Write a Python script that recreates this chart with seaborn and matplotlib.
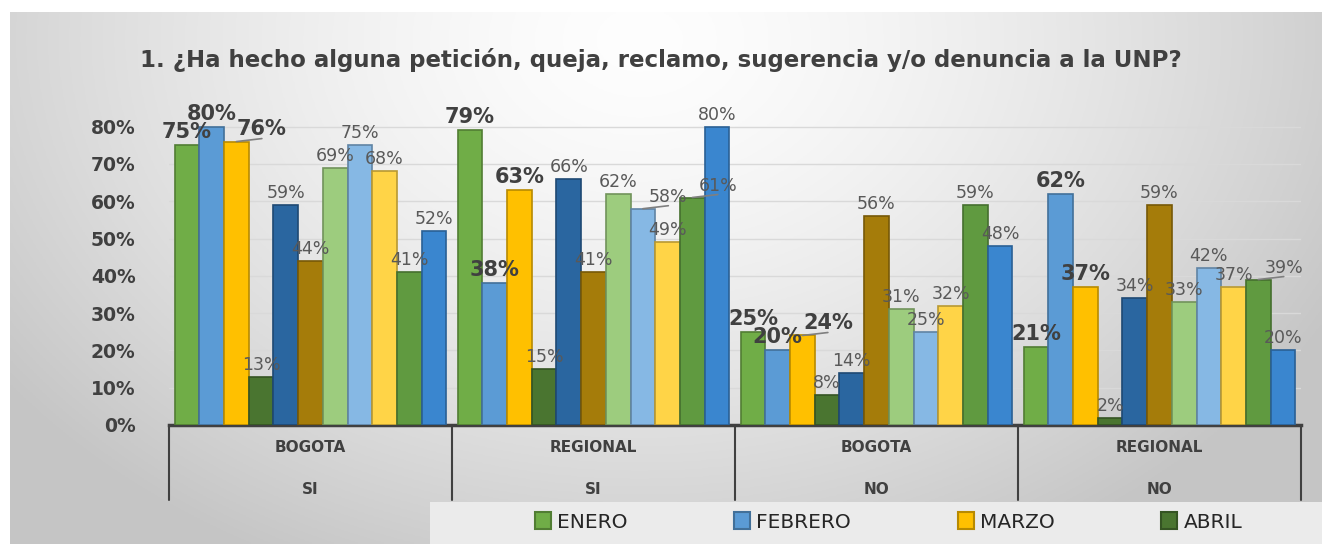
import numpy as np
import pandas as pd
import matplotlib.pyplot as plt
import matplotlib.colors as mcolors
import seaborn as sns
from matplotlib.patches import Patch, Rectangle
from matplotlib.ticker import PercentFormatter

# datos
meses = ['ENERO', 'FEBRERO', 'MARZO', 'ABRIL', 'MAYO', 'JUNIO',
         'JULIO', 'AGOSTO', 'SEPTIEMBRE', 'OCTUBRE', 'NOVIEMBRE']
sedes = ['BOGOTA', 'REGIONAL', 'BOGOTA', 'REGIONAL']
respuestas = ['SI', 'SI', 'NO', 'NO']

bogota_si = [0.75, 0.80, 0.76, 0.13, 0.59, 0.44, 0.69, 0.75, 0.68, 0.41, 0.52]
regional_si = [0.79, 0.38, 0.63, 0.15, 0.66, 0.41, 0.62, 0.58, 0.49, 0.61, 0.80]
bogota_no = [0.25, 0.20, 0.24, 0.08, 0.14, 0.56, 0.31, 0.25, 0.32, 0.59, 0.48]
regional_no = [0.21, 0.62, 0.37, 0.02, 0.34, 0.59, 0.33, 0.42, 0.37, 0.39, 0.20]

colores = ['#70AD47', '#5B9BD5', '#FFC000', '#4A7530', '#2A66A0', '#A57C0A',
           '#9DCC7E', '#86B8E4', '#FFD447', '#609A40', '#3A86CF']
meses_leyenda = meses[:4]

titulo = '1. ¿Ha hecho alguna petición, queja, reclamo, sugerencia y/o denuncia a la UNP?'

grupos = [f'{s} {r}' for s, r in zip(sedes, respuestas)]
valores = [bogota_si, regional_si, bogota_no, regional_no]
df = pd.DataFrame([
    {'grupo': g, 'mes': m, 'valor': v}
    for g, vals in zip(grupos, valores)
    for m, v in zip(meses, vals)
])

sns.set_theme(style='white')
plt.rcParams['font.family'] = ['DejaVu Sans']


def oscuro(c, f=0.72):
    r, g, b = mcolors.to_rgb(c)
    return (r * f, g * f, b * f)


W, H = 1322, 544
fig = plt.figure(figsize=(W / 100, H / 100), dpi=100, facecolor='white')

# fondo con degradado gris
bg = fig.add_axes([10 / W, 0, 1 - 10 / W, 1 - 12 / H], zorder=-5)
yy, xx = np.mgrid[0:1:200j, 0:1:400j]
d = np.sqrt(((xx - 0.48) / 0.6) ** 2 + ((yy - 0.05) / 1.1) ** 2)
d = np.clip(d, 0, 1) ** 1.5
tono = 0.995 - 0.22 * d
bg.imshow(np.dstack([tono, tono, tono]), extent=[0, 1, 0, 1], aspect='auto', origin='upper')
bg.axis('off')

# franja de la leyenda
fig.add_artist(Rectangle((430 / W, 0), 1 - 430 / W, 42 / H, transform=fig.transFigure,
                         facecolor='#EBEBEB', edgecolor='none', zorder=-1))

ax_top = 108
ax_h = 425 - ax_top
ax = fig.add_axes([169 / W, (H - 425) / H, (1301 - 169) / W, ax_h / H])
ax.patch.set_alpha(0)

sns.barplot(data=df, x='grupo', y='valor', hue='mes', hue_order=meses, order=grupos,
            palette=colores, saturation=1, width=0.96, legend=False, ax=ax, zorder=3)

for cont, c in zip(ax.containers, colores):
    for p in cont:
        p.set_edgecolor(oscuro(c))
        p.set_linewidth(1.2)

ax.set_xlim(-0.5, 3.5)
ax.set_ylim(0, 0.85)
ax.set_yticks(np.arange(0, 0.81, 0.1))
ax.yaxis.set_major_formatter(PercentFormatter(1.0, decimals=0))
ax.yaxis.grid(True, color='#D9D9D9', lw=1, zorder=0)
ax.set_axisbelow(True)
ax.tick_params(axis='y', left=False, pad=18, labelsize=13.5, labelcolor='#404040')
for t in ax.get_yticklabels():
    t.set_fontweight('bold')
ax.tick_params(axis='x', bottom=False, labelbottom=False)
ax.set_xlabel('')
ax.set_ylabel('')
for s in ['top', 'right', 'left']:
    ax.spines[s].set_visible(False)
ax.spines['bottom'].set_color('#404040')
ax.spines['bottom'].set_linewidth(2.5)

# tabla de categorias bajo el eje
xt = ax.get_xaxis_transform()
for xb in np.arange(-0.5, 4, 1):
    ax.plot([xb, xb], [0, -75 / ax_h], transform=xt, color='#404040', lw=1.5,
            clip_on=False)
for i, (s, r) in enumerate(zip(sedes, respuestas)):
    ax.text(i, -23 / ax_h, s, transform=xt, ha='center', va='center', fontsize=11,
            fontweight='bold', color='#404040')
    ax.text(i, -65 / ax_h, r, transform=xt, ha='center', va='center', fontsize=11,
            fontweight='bold', color='#404040')

# etiquetas de datos, evitando choques entre ellas
renderer = fig.canvas.get_renderer()
puestas = []
paso = 0.045
for g in range(len(grupos)):
    for h in range(len(meses)):
        p = ax.containers[h][g]
        xc = p.get_x() + p.get_width() / 2
        v = p.get_height()
        negrita = h < 3
        t = ax.text(xc, v + 0.008, f'{v:.0%}', ha='center', va='bottom', zorder=6,
                    fontsize=15 if negrita else 12.5,
                    fontweight='heavy' if negrita else 'normal',
                    color='#404040' if negrita else '#595959')
        elegido = None
        for k in range(10):
            for dx in [0, -0.045, 0.045, -0.09, 0.09]:
                t.set_position((xc + dx, v + 0.008 + k * paso))
                bb = t.get_window_extent(renderer).expanded(1.0, 0.9)
                if not any(bb.overlaps(o) for o in puestas):
                    elegido = (dx, k)
                    break
            if elegido:
                break
        puestas.append(t.get_window_extent(renderer).expanded(1.0, 0.9))
        if elegido and (elegido[1] > 0 or abs(elegido[0]) > 0.05):
            x2, y2 = t.get_position()
            ax.plot([xc, x2], [v, y2], color='#7F7F7F', lw=1.2, zorder=5, clip_on=False)

fig.text(0.5, 1 - 60 / H, titulo, ha='center', va='center', fontsize=16.5,
         fontweight='bold', color='#404040')

handles = [Patch(facecolor=c, edgecolor=oscuro(c), lw=1.5) for c in colores[:4]]
fig.legend(handles, meses_leyenda, loc='center', bbox_to_anchor=(0.672, 22 / H), ncol=4,
           frameon=False, handlelength=0.8, handleheight=0.9, handletextpad=0.3,
           columnspacing=5.3, prop={'size': 14.5})

fig.savefig('out.png', dpi=100)
